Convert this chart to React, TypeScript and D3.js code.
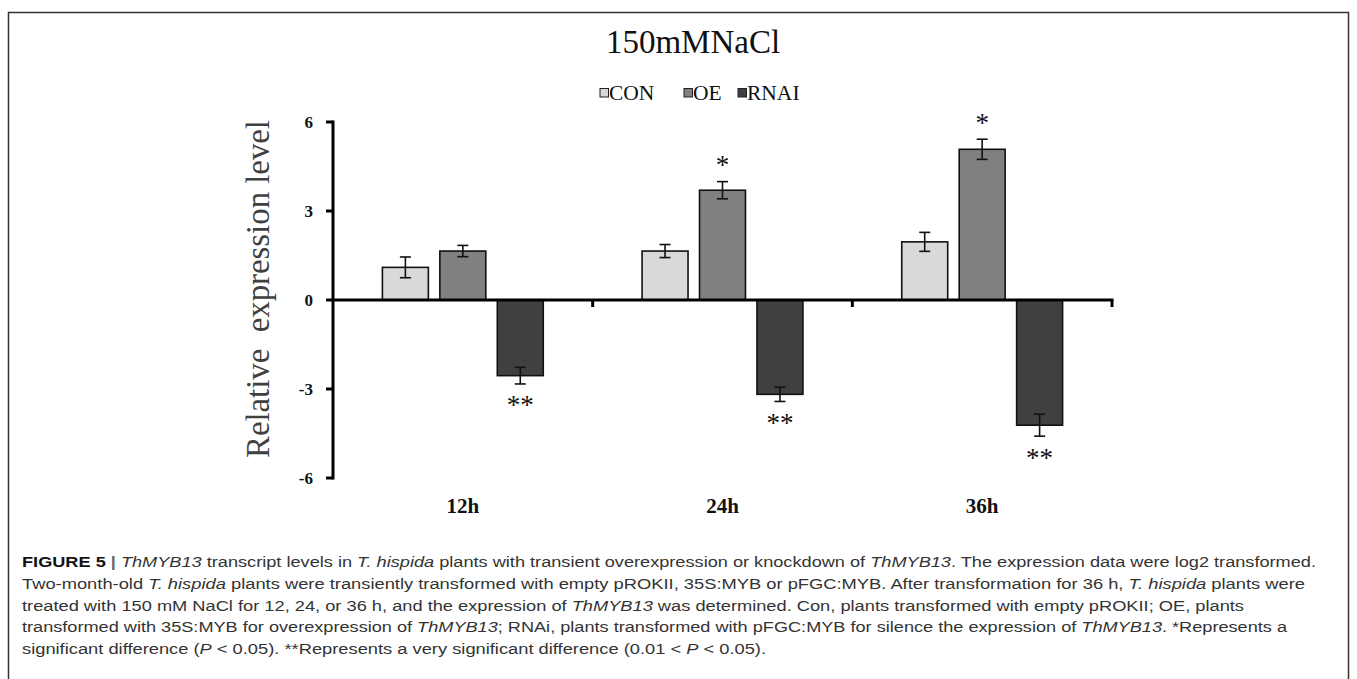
import React from 'react';
import * as d3 from 'd3';

// ---- data ----
const groups = ['12h', '24h', '36h'];
const seriesNames = ['CON', 'OE', 'RNAI'];
const conValues = [1.1, 1.65, 1.96];
const conErrors = [0.35, 0.22, 0.32];
const oeValues = [1.65, 3.7, 5.08];
const oeErrors = [0.19, 0.29, 0.34];
const rnaiValues = [-2.55, -3.18, -4.22];
const rnaiErrors = [0.28, 0.24, 0.37];
const oeMarks = ['', '*', '*'];
const rnaiMarks = ['**', '**', '**'];
const yTicks = [-6, -3, 0, 3, 6];
const seriesColors = ['#d9d9d9', '#808080', '#404040'];
const titleText = '150mMNaCl';
const yAxisTitle = 'Relative\u00a0\u00a0expression level';

type Seg = [string, string?];
const captionLines: Seg[][] = [
  [['FIGURE 5 ', 'b'], ['| ', 'bar'], ['ThMYB13', 'i'], [' transcript levels in '], ['T. hispida', 'i'], [' plants with transient overexpression or knockdown of '], ['ThMYB13', 'i'], ['. The expression data were log2 transformed.']],
  [['Two-month-old '], ['T. hispida', 'i'], [' plants were transiently transformed with empty pROKII, 35S:MYB or pFGC:MYB. After transformation for 36 h, '], ['T. hispida', 'i'], [' plants were']],
  [['treated with 150 mM NaCl for 12, 24, or 36 h, and the expression of '], ['ThMYB13', 'i'], [' was determined. Con, plants transformed with empty pROKII; OE, plants']],
  [['transformed with 35S:MYB for overexpression of '], ['ThMYB13', 'i'], ['; RNAi, plants transformed with pFGC:MYB for silence the expression of '], ['ThMYB13', 'i'], ['. *Represents a']],
  [['significant difference ('], ['P', 'i'], [' < 0.05). **Represents a very significant difference (0.01 < '], ['P', 'i'], [' < 0.05).']],
];
const captionLineEnds = [1316, 1305, 1244, 1287, 766];

export default function App() {
  const W = 1357;
  const H = 679;
  const plotLeft = 333;
  const plotRight = 1112;
  const serif = '"Liberation Serif", "Times New Roman", serif';
  const sans = '"Liberation Sans", Arial, sans-serif';

  const y = d3.scaleLinear().domain([-6, 6]).range([478, 122]);
  const x0 = d3.scaleBand<string>().domain(groups).range([plotLeft, plotRight]);
  const x1 = d3
    .scaleBand<string>()
    .domain(seriesNames)
    .range([0, x0.bandwidth()])
    .paddingInner(0.2)
    .paddingOuter(0.86);

  const seriesVals = [conValues, oeValues, rnaiValues];
  const seriesErrs = [conErrors, oeErrors, rnaiErrors];

  const bars = groups.flatMap((g, gi) =>
    seriesNames.map((s, si) => {
      const v = seriesVals[si][gi];
      const e = seriesErrs[si][gi];
      const bx = (x0(g) as number) + (x1(s) as number);
      return { g, s, si, v, e, bx, bw: x1.bandwidth() };
    })
  );

  const legendX = [600, 684, 738];

  return (
    <svg width={W} height={H} style={{ position: 'absolute', left: 0, top: 0, background: '#fff' }}>
      <rect x={8.5} y={12.5} width={1340} height={720} fill="none" stroke="#333" strokeWidth={1.5} />

      {/* title */}
      <text x={693} y={53} textAnchor="middle" fontFamily={serif} fontSize={33} fill="#111">
        {titleText}
      </text>

      {/* legend */}
      {seriesNames.map((s, i) => (
        <g key={s}>
          <rect x={legendX[i]} y={88.5} width={8.5} height={8.5} fill={seriesColors[i]} stroke="#222" strokeWidth={1} />
          <text x={legendX[i] + 9} y={100} fontFamily={serif} fontSize={21.5} fill="#111">
            {s}
          </text>
        </g>
      ))}

      {/* y-axis title */}
      <text
        transform={`translate(269,289) rotate(-90)`}
        textAnchor="middle"
        fontFamily={serif}
        fontSize={33}
        fill="#404040"
        textLength={338}
        lengthAdjust="spacingAndGlyphs"
      >
        {yAxisTitle}
      </text>

      {/* bars */}
      {bars.map((b) => {
        const top = y(Math.max(0, b.v));
        const bot = y(Math.min(0, b.v));
        return (
          <rect
            key={b.g + b.s}
            x={b.bx}
            y={top}
            width={b.bw}
            height={bot - top}
            fill={seriesColors[b.si]}
            stroke="#111"
            strokeWidth={1.6}
          />
        );
      })}

      {/* error bars */}
      {bars.map((b) => {
        const cx = b.bx + b.bw / 2;
        const y1 = y(b.v + b.e);
        const y2 = y(b.v - b.e);
        return (
          <g key={'e' + b.g + b.s} stroke="#111" strokeWidth={1.6}>
            <line x1={cx} x2={cx} y1={y1} y2={y2} />
            <line x1={cx - 5.5} x2={cx + 5.5} y1={y1} y2={y1} />
            <line x1={cx - 5.5} x2={cx + 5.5} y1={y2} y2={y2} />
          </g>
        );
      })}

      {/* significance marks */}
      {groups.map((g, gi) => {
        const oeX = (x0(g) as number) + (x1('OE') as number) + x1.bandwidth() / 2;
        const rX = (x0(g) as number) + (x1('RNAI') as number) + x1.bandwidth() / 2;
        const oeTop = y(oeValues[gi] + oeErrors[gi]);
        const rBot = y(rnaiValues[gi] - rnaiErrors[gi]);
        return (
          <g key={'m' + g} fontFamily={serif} fontSize={27} fill="#111" textAnchor="middle">
            {oeMarks[gi] && (
              <text x={oeX} y={oeTop - 21 + 13.5}>
                {oeMarks[gi]}
              </text>
            )}
            {rnaiMarks[gi] && (
              <text x={rX} y={rBot + 17 + 13.5}>
                {rnaiMarks[gi]}
              </text>
            )}
          </g>
        );
      })}

      {/* axes */}
      <line x1={plotLeft} x2={plotLeft} y1={y(6) - 1.5} y2={y(-6) + 1.5} stroke="#000" strokeWidth={3} />
      <line x1={plotLeft} x2={plotRight + 1.5} y1={y(0)} y2={y(0)} stroke="#000" strokeWidth={3} />
      {yTicks.map((t) => (
        <g key={'yt' + t}>
          <line x1={plotLeft - 7} x2={plotLeft} y1={y(t)} y2={y(t)} stroke="#000" strokeWidth={3} />
          <text
            x={313}
            y={y(t) + 6}
            textAnchor="end"
            fontFamily={serif}
            fontWeight="bold"
            fontSize={17}
            fill="#111"
          >
            {t}
          </text>
        </g>
      ))}
      {groups.map((g) => {
        const xr = (x0(g) as number) + x0.bandwidth();
        return <line key={'xt' + g} x1={xr} x2={xr} y1={y(0)} y2={y(0) + 7} stroke="#000" strokeWidth={3} />;
      })}
      {groups.map((g) => (
        <text
          key={'xl' + g}
          x={(x0(g) as number) + x0.bandwidth() / 2}
          y={513}
          textAnchor="middle"
          fontFamily={serif}
          fontWeight="bold"
          fontSize={21}
          fill="#111"
        >
          {g}
        </text>
      ))}

      {/* caption */}
      {captionLines.map((line, li) => (
        <text
          key={'c' + li}
          x={22}
          y={567 + li * 21.8}
          fontFamily={sans}
          fontSize={15.5}
          fill="#333"
          textLength={captionLineEnds[li] - 22}
          lengthAdjust="spacingAndGlyphs"
        >
          {line.map((seg, si) => (
            <tspan
              key={si}
              fontWeight={seg[1] === 'b' || seg[1] === 'bar' ? 'bold' : undefined}
              fontStyle={seg[1] === 'i' ? 'italic' : undefined}
              fill={seg[1] === 'b' ? '#111' : seg[1] === 'bar' ? '#666' : undefined}
            >
              {seg[0]}
            </tspan>
          ))}
        </text>
      ))}
    </svg>
  );
}
